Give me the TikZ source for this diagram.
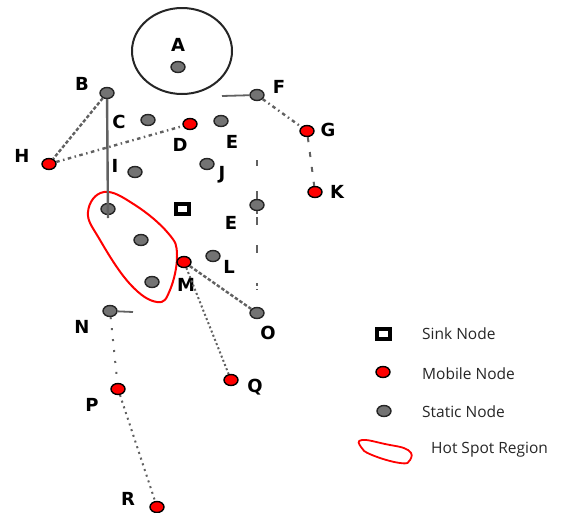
\documentclass[tikz,border=0pt]{standalone}
\usepackage{fontspec}
\setmainfont{DejaVu Sans}
\newfontfamily\legfont{Open Sans}
\usetikzlibrary{shapes.geometric}
\begin{document}
\begin{tikzpicture}[x=1pt,y=-1pt,
  stat/.style={ellipse,draw=black!85,line width=1.4pt,fill=black!55,minimum width=14pt,minimum height=11pt,inner sep=0pt},
  mob/.style={ellipse,draw=black,line width=1.4pt,fill=red,minimum width=14pt,minimum height=11pt,inner sep=0pt},
  lab/.style={font=\bfseries\fontsize{18}{18}\selectfont,inner sep=0pt},
  leg/.style={font=\legfont\fontsize{15.5}{16}\selectfont,anchor=west,inner sep=0pt,text=black!85},
  link/.style={draw=black!62,line width=2.4pt},
  dsh/.style={link,dash pattern=on 3.5pt off 2pt},
  dshdot/.style={link,dash pattern=on 3.5pt off 3.5pt on 1.5pt off 3.5pt},
  dot/.style={link,line width=2pt,dash pattern=on 2pt off 2.5pt},
  sdot/.style={link,line width=2pt,dash pattern=on 2pt off 9pt},
  sinkbox/.style={draw=black,line width=4pt,minimum width=13pt,minimum height=10pt,inner sep=0pt}]
\useasboundingbox (0,0) rectangle (562,512);
% circle A
\draw[black!85,line width=2pt] (182,51) ellipse [x radius=50, y radius=43];
% hot spot region
\draw[red,line width=2pt] plot[smooth cycle,tension=0.7] coordinates {(104,192) (135,205) (168,233) (177,255) (170,290) (157,302) (130,284) (100,240) (88,212)};
% nodes
\node[stat] (A) at (178,67) {};
\node[stat] (B) at (107,93) {};
\node[stat] (C) at (148,120) {};
\node[mob]  (D) at (190,124) {};
\node[stat] (E) at (221,121) {};
\node[stat] (F) at (257,95) {};
\node[mob]  (G) at (307,131) {};
\node[mob]  (K) at (315,192) {};
\node[mob]  (H) at (49,164) {};
\node[stat] (I) at (135,172) {};
\node[stat] (J) at (207,164) {};
\node[stat] (E2) at (257,205) {};
\node[sinkbox] (S) at (182,209) {};
\node[stat] (H1) at (108,209) {};
\node[stat] (H2) at (141,240) {};
\node[stat] (H3) at (152,282) {};
\node[mob]  (M) at (184,262) {};
\node[stat] (L) at (213,256) {};
\node[stat] (O) at (257,313) {};
\node[stat] (N) at (110,311) {};
\node[mob]  (P) at (118,389) {};
\node[mob]  (Q) at (231,380) {};
\node[mob]  (R) at (157,507) {};
\coordinate (Fs) at (222,96);
\coordinate (Ns) at (133,312);
\coordinate (Bend) at (108,218);
\coordinate (Et) at (257,160);
\coordinate (Eb) at (257,290);
% labels
\node[lab] at (178,45) {A};
\node[lab] at (82,84) {B};
\node[lab] at (119,122) {C};
\node[lab] at (180,145) {D};
\node[lab] at (232,142) {E};
\node[lab] at (279,87) {F};
\node[lab] at (328,130) {G};
\node[lab] at (337,192) {K};
\node[lab] at (22,156) {H};
\node[lab] at (115,166) {I};
\node[lab] at (222,175) {J};
\node[lab] at (231,223) {E};
\node[lab] at (229,267) {L};
\node[lab] at (186,285) {M};
\node[lab] at (268,333) {O};
\node[lab] at (82,327) {N};
\node[lab] at (92,405) {P};
\node[lab] at (255,387) {Q};
\node[lab] at (128,499) {R};
% connectors
\draw[link] (B) -- (Bend);
\draw[dsh] (B) -- (H);
\draw[dshdot] (H) -- (D);
\draw[link,line width=1.8pt] (Fs) -- (F);
\draw[dshdot] (F) -- (G);
\draw[link,line width=2pt,dash pattern=on 5pt off 10pt] (G) -- (K);
\draw[link,line width=1.8pt,dash pattern=on 6pt off 25pt on 10pt off 3pt] (Et) -- (E2);
\draw[link,line width=1.8pt,dash pattern=on 3pt off 3pt on 8pt off 20pt on 8pt off 30pt] (E2) -- (Eb);
\draw[dsh] (M) -- (O);
\draw[dot] (M) -- (Q);
\draw[link,line width=1.8pt] (N) -- (Ns);
\draw[sdot] (N) -- (P);
\draw[dot,dash pattern=on 2pt off 4pt] (P) -- (R);
% legend
\node[sinkbox] (LS) at (383,334) {};
\node[mob] (LM) at (383,372) {};
\node[stat] (LT) at (384,411) {};
\draw[red,line width=1.8pt] plot[smooth cycle,tension=0.8] coordinates {(362,440) (385,444) (408,450) (410,460) (400,463) (372,455) (361,447)};
\node[leg] (t1) at (422,334) {Sink Node};
\node[leg] (t2) at (422,374) {Mobile Node};
\node[leg] (t3) at (422,412) {Static Node};
\node[leg] (t4) at (431,450) {Hot Spot Region};
\end{tikzpicture}
\end{document}
